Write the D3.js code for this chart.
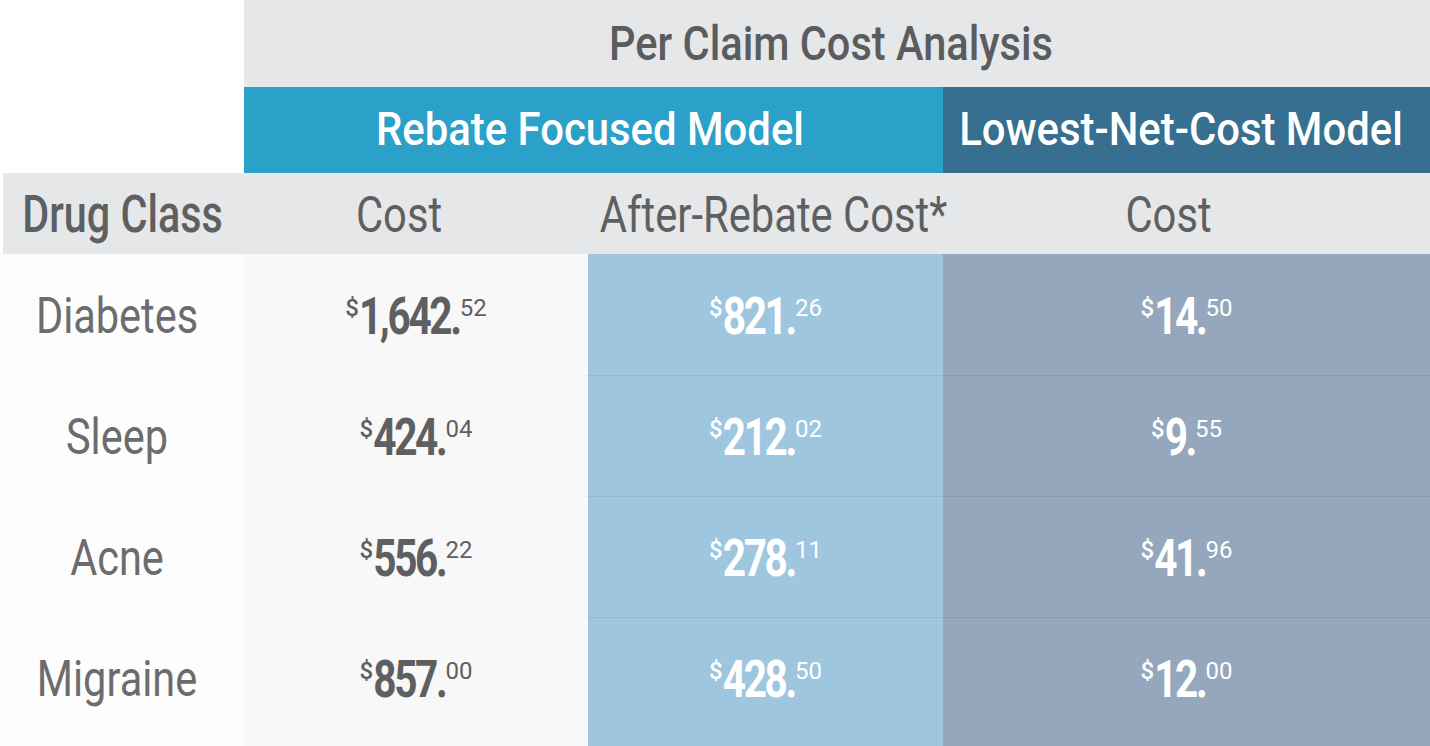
<!DOCTYPE html>
<html><head><meta charset="utf-8">
<script src="https://cdn.jsdelivr.net/npm/d3@7"></script>
<style>html,body{margin:0;padding:0;background:#fff;overflow:hidden}svg{display:block}</style>
</head><body><svg id="c" width="1430" height="746"></svg>
<script>
const title = "Per Claim Cost Analysis";
const models = ["Rebate Focused Model", "Lowest-Net-Cost Model"];
const columnHeaders = ["Drug Class", "Cost", "After-Rebate Cost*", "Cost"];
const categories = ["Diabetes", "Sleep", "Acne", "Migraine"];
const rebateCost = [1642.52, 424.04, 556.22, 857.00];
const afterRebateCost = [821.26, 212.02, 278.11, 428.50];
const lowestNetCost = [14.50, 9.55, 41.96, 12.00];

const W = 1430, H = 746;
const colEdges = [0, 244, 588, 943, 1430];
const FONT = "Roboto, 'Liberation Sans', sans-serif";
const svg = d3.select("#c");

const y = d3.scaleBand().domain(categories).range([254, 254 + 121 * 4]);

function ctext(x, yy, str, size, weight, fill, sx) {
  return svg.append("g").attr("transform", `translate(${x},${yy}) scale(${sx},1)`)
    .append("text").attr("text-anchor", "middle").attr("font-family", FONT)
    .attr("font-size", size).attr("font-weight", weight).attr("fill", fill).text(str);
}

// top title band
svg.append("rect").attr("x", 244).attr("y", 0).attr("width", W - 244).attr("height", 87).attr("fill", "#e6e7e9");
ctext(831, 60, title, 49, 500, "#5b5c5e", 0.848);

// model band
svg.append("rect").attr("x", 244).attr("y", 87).attr("width", 943 - 244).attr("height", 86).attr("fill", "#2ba1ca");
svg.append("rect").attr("x", 943).attr("y", 87).attr("width", W - 943).attr("height", 86).attr("fill", "#366f90");
ctext(590, 145, models[0], 46, 500, "#ffffff", 0.91);
ctext(1181, 145, models[1], 46, 500, "#ffffff", 0.91);

// column header band
svg.append("rect").attr("x", 3).attr("y", 173).attr("width", W - 3).attr("height", 81).attr("fill", "#e6e7e9");
const headerOffsets = [0.5, -17, 8, -18];
columnHeaders.forEach((h, i) => {
  const cx = (colEdges[i] + colEdges[i + 1]) / 2 + headerOffsets[i];
  ctext(cx, 232, h, i === 0 ? 51 : 50, i === 0 ? 500 : 400, "#5e5f61", i === 0 ? 0.81 : 0.835);
});

// body column backgrounds
const bodyFills = ["#fdfdfd", "#f8f8f8", "#9ec6df", "#94a7bd"];
bodyFills.forEach((f, i) => {
  svg.append("rect").attr("x", colEdges[i]).attr("y", 254).attr("width", colEdges[i + 1] - colEdges[i]).attr("height", H - 254).attr("fill", f);
});

// row separators
const lineCols = ["#fbfbfb", "#f5f5f5", "#8fb9d4", "#879bb3"];
categories.slice(1).forEach(c => {
  lineCols.forEach((lc, i) => {
    svg.append("line").attr("x1", colEdges[i]).attr("x2", colEdges[i + 1])
      .attr("y1", y(c) + 0.5).attr("y2", y(c) + 0.5).attr("stroke", lc).attr("stroke-width", 1);
  });
});

// row labels
categories.forEach(c => {
  ctext(117, y(c) + y.bandwidth() / 2 + 18, c, 50, 400, "#6b6c6e", 0.83);
});

// value cells: small "$", condensed bold dollars, small cents
const fmtInt = d3.format(",");
const MAIN_SX = 0.78;
function valueCell(cx, base, v, fill) {
  const whole = Math.floor(v + 1e-9);
  const cents = String(Math.round((v - whole) * 100)).padStart(2, "0");
  const g = svg.append("g").attr("transform", `translate(0,${base})`);
  const ds = g.append("text").attr("font-family", FONT).attr("font-size", 24).attr("font-weight", 500)
    .attr("fill", fill).attr("y", -18).text("$");
  const mg = g.append("g");
  const mt = mg.append("text").attr("font-family", FONT).attr("font-size", 52).attr("font-weight", 700)
    .attr("letter-spacing", -3).attr("fill", fill).text(fmtInt(whole) + ".");
  const ct = g.append("text").attr("font-family", FONT).attr("font-size", 24).attr("font-weight", 400)
    .attr("fill", fill).attr("y", -18).text(cents);
  const wd = ds.node().getComputedTextLength();
  const wm = mt.node().getComputedTextLength() * MAIN_SX;
  const wc = ct.node().getComputedTextLength();
  const gap1 = 0, gap2 = 0;
  const total = wd + gap1 + wm + gap2 + wc;
  let x0 = cx - total / 2;
  ds.attr("x", x0);
  mg.attr("transform", `translate(${x0 + wd + gap1},0) scale(${MAIN_SX},1)`);
  ct.attr("x", x0 + wd + gap1 + wm + gap2);
}
const series = [rebateCost, afterRebateCost, lowestNetCost];
const valueFills = ["#5e5f61", "#ffffff", "#ffffff"];
series.forEach((s, si) => {
  const cx = (colEdges[si + 1] + colEdges[si + 2]) / 2;
  categories.forEach((c, i) => {
    valueCell(cx, y(c) + y.bandwidth() / 2 + 19.5, s[i], valueFills[si]);
  });
});
</script></body></html>
